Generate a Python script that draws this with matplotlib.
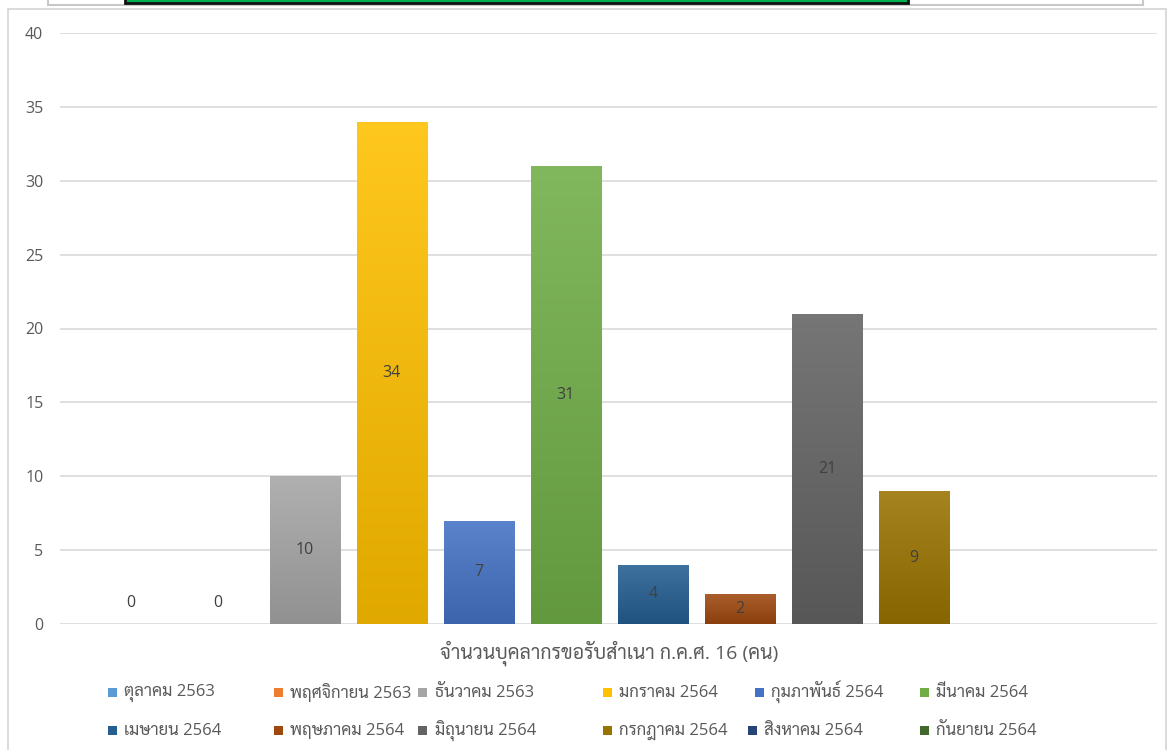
import numpy as np
import matplotlib
matplotlib.use("Agg")
import matplotlib.pyplot as plt
from matplotlib.colors import to_rgb
from matplotlib.patches import Rectangle

plt.rcParams['font.family'] = ['Open Sans', 'Sarabun', 'Noto Sans Thai', 'DejaVu Sans']

# ข้อมูล
category = "จำนวนบุคลากรขอรับสำเนา ก.ค.ศ. 16 (คน)"
months = ["ตุลาคม 2563", "พฤศจิกายน 2563", "ธันวาคม 2563", "มกราคม 2564",
          "กุมภาพันธ์ 2564", "มีนาคม 2564", "เมษายน 2564", "พฤษภาคม 2564",
          "มิถุนายน 2564", "กรกฎาคม 2564", "สิงหาคม 2564", "กันยายน 2564"]
counts = [0, 0, 10, 34, 7, 31, 4, 2, 21, 9, None, None]
colors = ["#5B9BD5", "#ED7D31", "#A5A5A5", "#FFC000", "#4472C4", "#70AD47",
          "#255E91", "#9E480E", "#636363", "#997300", "#264478", "#43682B"]
yticks = [0, 5, 10, 15, 20, 25, 30, 35, 40]

W, H = 1171, 750
fig = plt.figure(figsize=(W / 100, H / 100), dpi=100)

def fx(px):
    return px / W

def fy(py):
    return 1 - py / H

# กรอบด้านบน (ส่วนที่ถูกตัดมา)
fig.patches.append(Rectangle((fx(48), fy(5)), fx(1143 - 48), 0.05, transform=fig.transFigure,
                             facecolor="white", edgecolor="#C8C8C8", lw=1.5, zorder=-3))
fig.patches.append(Rectangle((fx(125), fy(3)), fx(908 - 125), 0.05, transform=fig.transFigure,
                             facecolor="#00B050", edgecolor="#101010", lw=2, zorder=-2))
# กรอบแผนภูมิ
fig.patches.append(Rectangle((fx(8), fy(760)), fx(1166 - 8), (760 - 9) / H, transform=fig.transFigure,
                             facecolor="white", edgecolor="#D4D4D4", lw=1.2, zorder=-1))

ax = fig.add_axes([fx(60), fy(624), fx(1157 - 60), (624 - 33) / H])
ax.set_facecolor("none")

x = np.arange(len(months))
bw = 0.805


def shade(c, k):
    r = np.array(to_rgb(c))
    if k >= 1:
        return r + (1 - r) * (k - 1)
    return r * k


for i, (v, c) in enumerate(zip(counts, colors)):
    if v is None:
        continue
    bar = ax.bar(x[i], v, width=bw, color=c, zorder=2)[0]
    if v > 0:
        top, bot = shade(c, 1.12), shade(c, 0.88)
        t = np.linspace(0, 1, 64)[:, None]
        grad = (top[None, :] * (1 - t) + bot[None, :] * t)[:, None, :]
        im = ax.imshow(grad, extent=(x[i] - bw / 2, x[i] + bw / 2, 0, v),
                       aspect="auto", zorder=3, interpolation="bilinear")
        im.set_clip_path(bar)
        ax.annotate(str(v), (x[i], v / 2), ha="center", va="center",
                    fontsize=11.5, color="#404040", zorder=5)
    else:
        ax.annotate(str(v), (x[i], 0), xytext=(0, 21), textcoords="offset pixels",
                    ha="center", va="center", fontsize=11.5, color="#404040", zorder=5)

ax.set_xlim(-0.81, 11.79)
ax.set_ylim(0, 40)
ax.set_yticks(yticks)
ax.yaxis.grid(True, color="#D9D9D9", lw=1.2, zorder=0)
ax.set_axisbelow(True)
ax.set_xticks([5.5])
ax.set_xticklabels([category])
ax.tick_params(axis="x", length=0, pad=12, labelsize=14, labelcolor="#595959")
ax.tick_params(axis="y", length=0, pad=12, labelsize=11.5, labelcolor="#595959")
for s in ax.spines.values():
    s.set_visible(False)

# คำอธิบายสัญลักษณ์
leg_x = [[112, 278, 423, 607, 759, 924], [112, 278, 423, 607, 752, 924]]
leg_y = [692, 730]
for i, (m, c) in enumerate(zip(months, colors)):
    r, k = divmod(i, 6)
    cx, cy = leg_x[r][k], leg_y[r]
    fig.patches.append(Rectangle((fx(cx - 4.5), fy(cy + 4.5)), fx(9), 9 / H,
                                 transform=fig.transFigure, facecolor=c, edgecolor="none"))
    fig.text(fx(cx + 12), fy(cy + 1), m, ha="left", va="center", fontsize=12, color="#595959")

fig.savefig("out.png", dpi=100)
